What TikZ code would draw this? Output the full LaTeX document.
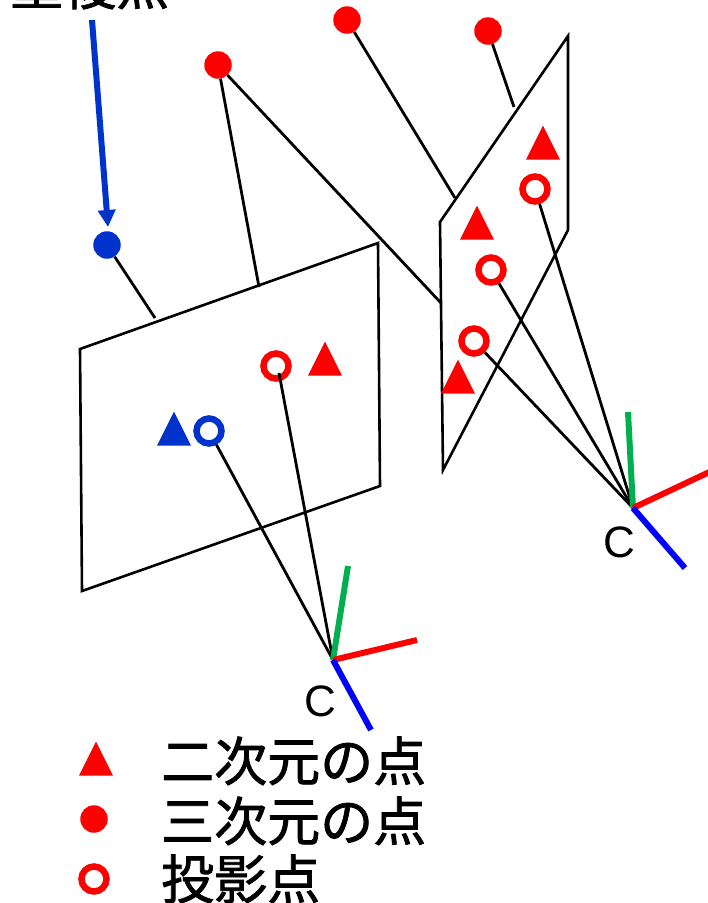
\documentclass[tikz,border=0pt]{standalone}
\usepackage{fontspec}
\newfontfamily\cjk[FakeBold=1.5]{Noto Sans CJK JP}
\setmainfont{Liberation Sans}
\usetikzlibrary{shapes.geometric,arrows.meta}
\definecolor{myblue}{RGB}{0,51,204}
\definecolor{axisred}{RGB}{255,0,0}
\definecolor{axisblue}{RGB}{0,0,255}
\definecolor{axisgreen}{RGB}{0,176,80}
\tikzset{
  edge/.style={draw=black,line width=2.8pt},
  plane/.style={draw=black,line width=2.6pt,line join=miter},
  axis/.style={line width=6pt},
  dot/.style={circle,fill=#1,inner sep=0pt,minimum size=27.5pt},
  ring/.style={circle,draw=#1,fill=white,line width=6.5pt,inner sep=0pt,minimum size=25pt},
  tri/.style={isosceles triangle,isosceles triangle stretches,shape border rotate=90,fill=#1,inner sep=0pt,minimum width=34pt,minimum height=34pt},
  label/.style={font=\cjk\fontsize{53}{53}\selectfont,anchor=base west,inner sep=0pt},
  camlabel/.style={font=\fontsize{44}{44}\selectfont,inner sep=0pt},
}
\begin{document}
\begin{tikzpicture}[x=1pt,y=-1pt]
\useasboundingbox (0,0) rectangle (708,903);
\clip (0,0) rectangle (708,903);
% planes
\draw[plane] (80,349) -- (378,243) -- (380,486) -- (82,591) -- cycle;
\draw[plane] (440,222) -- (568,36) -- (568,230) -- (443,470) -- cycle;
% named points
\node[dot=myblue] (b) at (107,245) {};
\node[dot=red] (r1) at (218,65) {};
\node[dot=red] (r2) at (347,20) {};
\node[dot=red] (r3) at (488,31) {};
\coordinate (b1) at (155,318);
\coordinate (r1a) at (259,287);
\coordinate (r1b) at (441,303);
\coordinate (r2a) at (455,198);
\coordinate (r3a) at (514,107);
\coordinate (c1) at (333,660);
\coordinate (c2) at (633,508);
\coordinate (x1) at (417,640);
\coordinate (y1) at (348,566);
\coordinate (z1) at (371,730);
\coordinate (x2) at (720,467);
\coordinate (y2) at (628,412);
\coordinate (z2) at (685,568);
\coordinate (arrowstart) at (92,20);
\coordinate (arrowend) at (108,227);
\coordinate (p1in) at (279,373);
\node[ring=red] (p1) at (276,366) {};
\node[ring=myblue] (p2) at (209,431) {};
\node[ring=red] (p3) at (535,189) {};
\node[ring=red] (p4) at (491,270) {};
\node[ring=red] (p5) at (474,341) {};
\node[tri=red] (t1) at (325,365) {};
\node[tri=myblue] (t2) at (174,435) {};
\node[tri=red] (t3) at (543,149) {};
\node[tri=red] (t4) at (477,229) {};
\node[tri=red] (t5) at (458,383) {};
% connectors
\draw[edge] (b) -- (b1);
\draw[edge] (r1) -- (r1a);
\draw[edge] (r1) -- (r1b);
\draw[edge] (r2) -- (r2a);
\draw[edge] (r3) -- (r3a);
\draw[edge] (p1in) -- (c1);
\draw[edge] (p2) -- (c1);
\draw[edge] (p3) -- (c2);
\draw[edge] (p4) -- (c2);
\draw[edge] (p5) -- (c2);
% axes
\draw[axis,axisgreen] (c1) -- (y1);
\draw[axis,axisred] (c1) -- (x1);
\draw[axis,axisblue] (c1) -- (z1);
\draw[axis,axisgreen] (c2) -- (y2);
\draw[axis,axisred] (c2) -- (x2);
\draw[axis,axisblue] (c2) -- (z2);
\node[camlabel] (cl1) at (320,701) {C};
\node[camlabel] (cl2) at (619,542) {C};
% arrow
\draw[myblue,line width=6pt,-{Triangle[length=17pt,width=17pt]}] (arrowstart) -- (arrowend);
% title
\node[label] (title) at (10,5) {重複点};
% legend
\node[tri=red] (lt) at (96,765) {};
\node[dot=red] (ld) at (94,819) {};
\node[ring=red] (lr) at (94,879) {};
\node[label] (l1) at (161,781) {二次元の点};
\node[label] (l2) at (161,841) {三次元の点};
\node[label] (l3) at (161,899) {投影点};
\end{tikzpicture}
\end{document}
